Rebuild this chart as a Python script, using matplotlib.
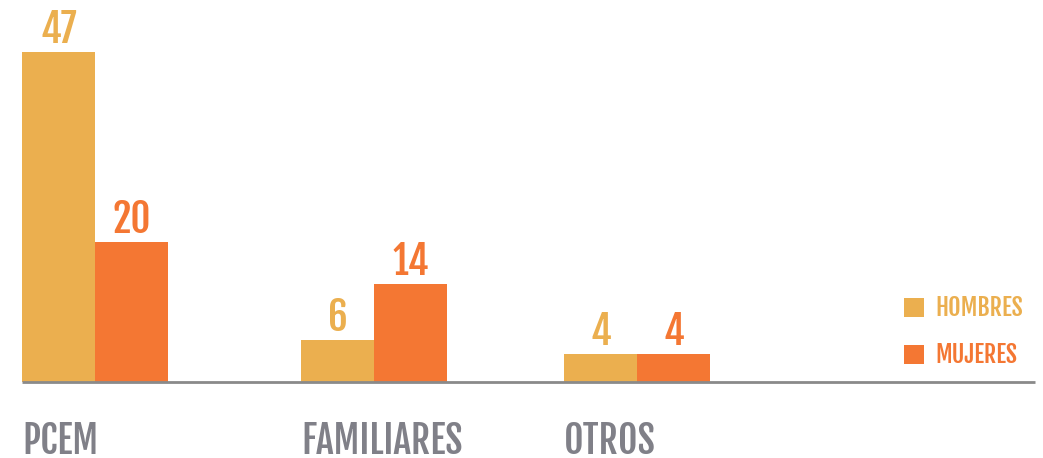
import matplotlib.pyplot as plt

categories = ['PCEM', 'FAMILIARES', 'OTROS']
series = ['HOMBRES', 'MUJERES']
hombres = [47, 6, 4]
mujeres = [20, 14, 4]

c_h = '#EBAF4F'
c_m = '#F47733'
c_txt = '#808088'

plt.rcParams['font.family'] = ['Fjalla One', 'Oswald', 'DejaVu Sans']

fig = plt.figure(figsize=(10.43, 4.58), dpi=100)
ax = fig.add_axes([0, 0, 1, 1])
ax.set_xlim(0, 1043)
ax.set_ylim(-10.83, 54.4)
ax.axis('off')

# left edges of each group (pixel units), bar width
left = [22, 301, 564]
w = 73

bh = ax.bar(left, hombres, width=w, align='edge', color=c_h, label=series[0])
bm = ax.bar([x + w for x in left], mujeres, width=w, align='edge', color=c_m, label=series[1])

ax.hlines(0, 22, 1035, color='#8a8a8a', lw=2, zorder=3)

for bars, col in ((bh, c_h), (bm, c_m)):
    for b in bars:
        ax.annotate(str(int(b.get_height())),
                    (b.get_x() + b.get_width() / 2, b.get_height()),
                    xytext=(0, 0), textcoords='offset points',
                    ha='center', va='bottom', fontsize=28, color=col)

for x, cat in zip(left, categories):
    ax.text(x, -8.35, cat, ha='left', va='center', fontsize=27, color=c_txt)

leg = ax.legend(loc='upper left', bbox_to_anchor=(0.857, 0.377), frameon=False,
                fontsize=17.5, handlelength=0.82, handleheight=0.82,
                handletextpad=0.5, labelspacing=0.85, borderaxespad=0)
for t, col in zip(leg.get_texts(), (c_h, c_m)):
    t.set_color(col)

fig.savefig('out.png', dpi=100)
